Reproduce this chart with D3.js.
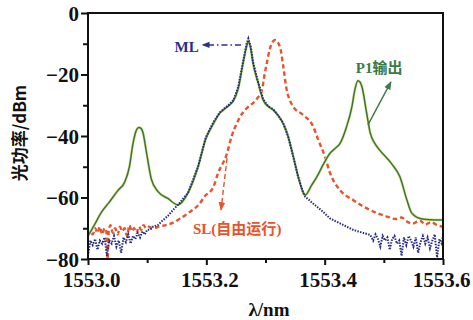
<!DOCTYPE html>
<html><head><meta charset="utf-8">
<script src="https://cdn.jsdelivr.net/npm/d3@7"></script>
<style>
html,body{margin:0;padding:0;background:#fff;}
svg{display:block;}
</style></head>
<body>
<svg id="c" width="473" height="320"></svg>
<script>
// ---- data (wavelength offsets from 1553.0 nm, power in dBm) ----
const xTicks = [1553.0, 1553.2, 1553.4, 1553.6];
const xTickLabels = ["1553.0", "1553.2", "1553.4", "1553.6"];
const xMinor = [1553.1, 1553.3, 1553.5];
const yTicks = [0, -20, -40, -60, -80];
const yTickLabels = ["0", "\u221220", "\u221240", "\u221260", "\u221280"];
const yMinor = [-10, -30, -50, -70];

// P1 output (green solid)
const p1Lambda = [0.000,0.003,0.012,0.022,0.036,0.051,0.062,0.070,0.076,0.082,0.086,0.090,0.093,0.099,0.107,0.118,0.135,0.152,0.169,0.186,0.199,0.212,0.223,0.229,0.240,0.246,0.254,0.262,0.268,0.271,0.275,0.279,0.288,0.296,0.305,0.313,0.322,0.330,0.338,0.347,0.355,0.364,0.367,0.378,0.387,0.397,0.409,0.418,0.426,0.437,0.446,0.451,0.456,0.460,0.463,0.471,0.477,0.485,0.493,0.513,0.527,0.539,0.547,0.561,0.578,0.595,0.600];
const p1Power  = [-72.5,-71.5,-68.5,-65,-61.5,-57.6,-55,-50,-42.5,-38,-37.2,-37.6,-39,-45.5,-54,-58,-60.3,-62.4,-58.5,-50,-41,-36,-32.5,-31.5,-29.8,-28.5,-24.5,-16.4,-11,-9.3,-11.5,-16.4,-23,-28.3,-30.5,-31.5,-33.5,-36,-40,-46.7,-53,-58.5,-59.2,-56,-53.2,-49.5,-45.6,-44,-42.4,-37,-30.5,-25,-22,-22.5,-24,-32.6,-39,-42.5,-44.6,-49,-53.2,-60.8,-65,-66.8,-67.2,-67.3,-67.3];

// ML (blue dotted)
const mlLambda = [0.000,0.004,0.008,0.012,0.016,0.020,0.024,0.028,0.032,0.036,0.040,0.044,0.048,0.052,0.056,0.060,0.064,0.068,0.072,0.076,0.080,0.084,0.088,0.092,0.096,0.100,0.105,0.110,0.118,0.126,0.135,0.144,0.152,0.169,0.186,0.199,0.212,0.223,0.229,0.240,0.246,0.254,0.262,0.268,0.271,0.275,0.279,0.288,0.296,0.305,0.313,0.322,0.330,0.338,0.347,0.355,0.364,0.367,0.380,0.397,0.409,0.426,0.449,0.465,0.477,0.482,0.486,0.490,0.494,0.498,0.502,0.506,0.510,0.514,0.518,0.522,0.526,0.530,0.534,0.538,0.542,0.546,0.550,0.554,0.558,0.562,0.566,0.570,0.574,0.578,0.582,0.586,0.590,0.594,0.598,0.600];
const mlPower  = [-79,-74,-75.5,-73.5,-77,-74,-75,-73,-79,-74,-75,-72.5,-76,-74,-78,-73,-74.5,-72,-75,-72.5,-73.5,-71.5,-73,-71,-72,-70.5,-70.5,-69.5,-69,-67.5,-66,-64,-62.4,-58.5,-50,-40.5,-35.5,-32.3,-31.3,-29.5,-28.3,-24,-16,-10,-8.3,-11,-16,-22.8,-28,-30.4,-31.3,-33.5,-35.8,-40,-46.8,-53.2,-58.6,-59.7,-61.9,-64.6,-66.8,-68.4,-70.6,-71.5,-72.2,-74,-72,-73.5,-76,-72.5,-74,-73,-77,-73.5,-72.5,-75,-74,-79,-73,-75.5,-72.5,-74,-76,-73,-78,-74.5,-72.5,-75,-73,-76.5,-74,-72,-79.5,-73.5,-75,-72.5];

// SL free running (red dashed)
const slLambda = [0.000,0.004,0.008,0.012,0.016,0.020,0.024,0.028,0.031,0.033,0.035,0.038,0.042,0.046,0.050,0.054,0.058,0.062,0.066,0.070,0.074,0.078,0.082,0.086,0.090,0.094,0.098,0.102,0.110,0.120,0.141,0.169,0.189,0.197,0.212,0.220,0.2344,0.2429,0.2513,0.2569,0.2682,0.2851,0.2941,0.2975,0.3020,0.3076,0.3160,0.3245,0.3301,0.3358,0.3414,0.3470,0.3639,0.3808,0.3892,0.4005,0.4090,0.4259,0.448,0.477,0.505,0.520,0.530,0.539,0.548,0.561,0.570,0.580,0.590,0.600];
const slPower  = [-72.5,-71,-72,-70,-71.5,-69.5,-72,-70,-71,-80,-71,-69,-71.5,-70,-72,-69.5,-71,-70,-72.5,-69,-71,-70,-71.5,-69.5,-70.5,-69,-70,-69.5,-70,-69.5,-68.4,-65.1,-61.9,-59.7,-56.5,-52,-46,-40,-36,-33.8,-31,-28,-25,-21,-16.5,-11.5,-8.8,-11,-17.5,-25,-28.5,-30.5,-33.2,-37,-41.3,-46.7,-52,-57.6,-60.8,-64.1,-66.2,-67,-66.5,-67.8,-68.5,-67.5,-68.8,-68,-69,-69.5];

// annotations (data coordinates)
const mlArrow = [[1553.2585,-10.4],[1553.1935,-10.4]];
const p1Arrow = [[1553.4732,-36.4],[1553.512,-22.4]];
const slArrow = [[1553.235,-47.2],[1553.2248,-64.0]];

// ---- drawing ----
const svg = d3.select("#c");
const L = 88, R = 443, T = 13, B = 259;
const x = d3.scaleLinear().domain([1553.0, 1553.6]).range([L, R]);
const y = d3.scaleLinear().domain([-80, 0]).range([B, T]);

const serif = "'Liberation Serif','Times New Roman',serif";
const cjk = "'Noto Sans CJK SC','Liberation Serif',serif";

const defs = svg.append("defs");
function marker(id, color) {
  defs.append("marker").attr("id", id).attr("viewBox", "0 0 10 10")
    .attr("refX", 9).attr("refY", 5).attr("markerWidth", 6).attr("markerHeight", 6)
    .attr("orient", "auto-start-reverse")
    .append("path").attr("d", "M0,1 L10,5 L0,9 Z").attr("fill", color);
}
marker("aBlue", "#2b2f86");
marker("aRed", "#e8532b");
marker("aGreen", "#3c7a46");

const line = d3.line().x(d => x(d[0])).y(d => y(d[1]));
const zip = (a, b) => a.map((v, i) => [1553.0 + v, b[i]]);

const clip = defs.append("clipPath").attr("id", "plot");
clip.append("rect").attr("x", L).attr("y", T).attr("width", R - L).attr("height", B - T);
const g = svg.append("g").attr("clip-path", "url(#plot)");

// SL red dashed
g.append("path").datum(zip(slLambda, slPower)).attr("d", line.curve(d3.curveMonotoneX))
  .attr("fill", "none").attr("stroke", "#e8532b").attr("stroke-width", 2.4)
  .attr("stroke-dasharray", "4.5,3");

// P1 green (with yellowish halo)
const p1 = zip(p1Lambda, p1Power);
g.append("path").datum(p1).attr("d", line.curve(d3.curveMonotoneX))
  .attr("fill", "none").attr("stroke", "#dde88a").attr("stroke-width", 2.8);
g.append("path").datum(p1).attr("d", line.curve(d3.curveMonotoneX))
  .attr("fill", "none").attr("stroke", "#3a7444").attr("stroke-width", 1.5);

// ML blue dotted
g.append("path").datum(zip(mlLambda, mlPower)).attr("d", line.curve(d3.curveLinear))
  .attr("fill", "none").attr("stroke", "#262b80").attr("stroke-width", 2)
  .attr("stroke-dasharray", "1.5,1.3");

// frame
svg.append("rect").attr("x", L).attr("y", T).attr("width", R - L).attr("height", B - T)
  .attr("fill", "none").attr("stroke", "#111").attr("stroke-width", 2);

// axes
const xAxis = d3.axisBottom(x).tickValues(xTicks).tickSize(6).tickFormat((d, i) => xTickLabels[i]);
const gx = svg.append("g").attr("transform", `translate(0,${B})`).call(xAxis);
gx.select(".domain").remove();
gx.selectAll(".tick line").attr("stroke", "#111").attr("stroke-width", 2);
gx.selectAll(".tick text").attr("font-family", serif).attr("font-weight", "bold")
  .attr("font-size", 21).attr("fill", "#111").attr("dy", null).attr("y", 28)
  .attr("dx", (d, i) => i === xTicks.length - 1 ? -2 : 3);
const gxm = svg.append("g").attr("transform", `translate(0,${B})`)
  .call(d3.axisBottom(x).tickValues(xMinor).tickSize(4).tickFormat(""));
gxm.select(".domain").remove();
gxm.selectAll(".tick line").attr("stroke", "#111").attr("stroke-width", 2);

const yAxis = d3.axisLeft(y).tickValues(yTicks).tickSize(7).tickFormat((d, i) => yTickLabels[i]);
const gy = svg.append("g").attr("transform", `translate(${L},0)`).call(yAxis);
gy.select(".domain").remove();
gy.selectAll(".tick line").attr("stroke", "#111").attr("stroke-width", 2);
gy.selectAll(".tick text").attr("font-family", serif).attr("font-weight", "bold")
  .attr("font-size", 21).attr("fill", "#111").attr("x", -9).attr("dy", "0.34em");
const gym = svg.append("g").attr("transform", `translate(${L},0)`)
  .call(d3.axisLeft(y).tickValues(yMinor).tickSize(5).tickFormat(""));
gym.select(".domain").remove();
gym.selectAll(".tick line").attr("stroke", "#111").attr("stroke-width", 2);

// axis titles
svg.append("text").attr("x", 269).attr("y", 316).attr("text-anchor", "middle")
  .attr("font-family", serif).attr("font-weight", "bold").attr("font-size", 19).attr("fill", "#111")
  .text("\u03bb/nm");
svg.append("text").attr("transform", "translate(26,133) rotate(-90)").attr("text-anchor", "middle")
  .attr("font-family", cjk).attr("font-weight", "bold").attr("font-size", 17).attr("fill", "#111")
  .text("光功率/dBm");

// annotations
const aLine = d3.line().x(d => x(d[0])).y(d => y(d[1]));
svg.append("path").datum(mlArrow).attr("d", aLine).attr("stroke", "#2b2f86").attr("stroke-width", 1.3)
  .attr("stroke-dasharray", "6,3,1.5,3").attr("fill", "none").attr("marker-end", "url(#aBlue)");
svg.append("text").attr("x", x(1553.187)).attr("y", y(-12.7)).attr("text-anchor", "end")
  .attr("font-family", serif).attr("font-weight", "bold").attr("font-size", 15).attr("fill", "#2b2f86")
  .text("ML");

svg.append("path").datum(p1Arrow).attr("d", aLine).attr("stroke", "#3c7a46").attr("stroke-width", 1.4)
  .attr("fill", "none").attr("marker-end", "url(#aGreen)");
svg.append("text").attr("x", x(1553.492)).attr("y", y(-19.5)).attr("text-anchor", "middle")
  .attr("fill", "#3c7a46").attr("font-weight", "bold").attr("font-size", 15)
  .call(t => {
    t.append("tspan").attr("font-family", serif).text("P1");
    t.append("tspan").attr("font-family", cjk).text("输出");
  });

svg.append("path").datum(slArrow).attr("d", aLine).attr("stroke", "#e8532b").attr("stroke-width", 1.4)
  .attr("stroke-dasharray", "5,3").attr("fill", "none").attr("marker-end", "url(#aRed)");
svg.append("text").attr("x", x(1553.1775)).attr("y", y(-71.9)).attr("text-anchor", "start")
  .attr("fill", "#e8532b").attr("font-weight", "bold").attr("font-size", 15)
  .call(t => {
    t.append("tspan").attr("font-family", serif).text("SL(");
    t.append("tspan").attr("font-family", cjk).text("自由运行");
    t.append("tspan").attr("font-family", serif).text(")");
  });
</script>
</body></html>
